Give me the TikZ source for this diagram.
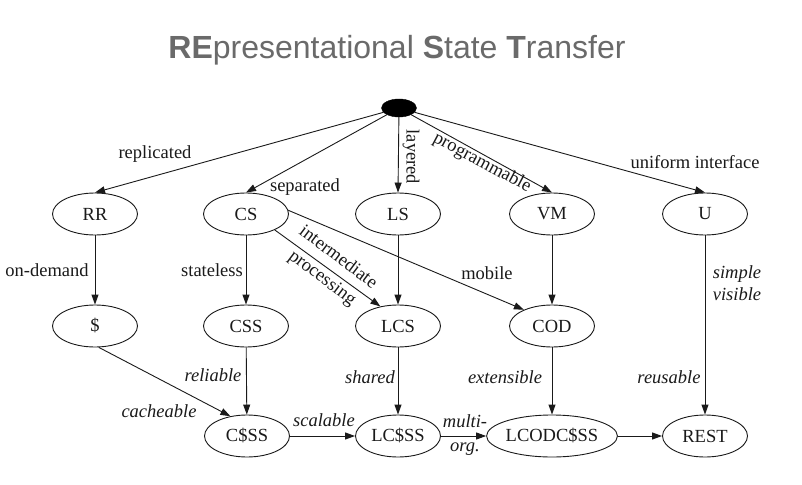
\documentclass[tikz,border=0pt]{standalone}
\usepackage{fontspec}
\setmainfont{Liberation Serif}
\newfontfamily\titlefont{Liberation Sans}
\usetikzlibrary{shapes.geometric,arrows.meta}
\definecolor{ink}{HTML}{1A1A1A}
\definecolor{titlegray}{HTML}{6A6A6A}
\tikzset{
  st/.style={draw=ink, ellipse, line width=0.9pt, minimum width=85pt, minimum height=42pt, inner sep=0pt, text=ink, font=\fontsize{18.5}{20}\selectfont},
  lbl/.style={text=ink, inner sep=0pt, font=\fontsize{18.5}{22}\selectfont},
  ilbl/.style={text=ink, inner sep=0pt, font=\fontsize{18.5}{22}\selectfont\itshape},
  conn/.style={draw=ink, line width=0.9pt, -{Triangle[length=10pt,width=7pt]}},
}
\begin{document}
\begin{tikzpicture}[x=1pt,y=-1pt]
\useasboundingbox (0,0) rectangle (802,484);
\fill[white] (0,0) rectangle (802,484);
\node[text=titlegray, font=\titlefont\fontsize{32}{36}\selectfont, inner sep=0pt] (title) at (397,50) {\textbf{RE}presentational \textbf{S}tate \textbf{T}ransfer};

\node[ellipse, fill=black, draw=black, minimum width=35pt, minimum height=18pt, inner sep=0pt] (top) at (399,108) {};

\node[st] (RR) at (95,214) {RR};
\node[st] (CS) at (246,214) {CS};
\node[st] (LS) at (398,214) {LS};
\node[st] (VM) at (552,214) {VM};
\node[st] (U) at (705,214) {U};

\node[st] (D) at (95,326) {\$};
\node[st] (CSS) at (246,326) {CSS};
\node[st] (LCS) at (398,326) {LCS};
\node[st] (COD) at (552,326) {COD};

\node[st] (CDSS) at (247,436) {C\$SS};
\node[st] (LCDSS) at (398,436) {LC\$SS};
\node[st, minimum width=123pt] (LCODCDSS) at (552,436) {LCODC\$SS};
\node[st] (REST) at (705,436) {REST};

\draw[conn] (top) -- (RR.north);
\draw[conn] (top) -- (CS.north);
\draw[conn] (top) -- (LS.north);
\draw[conn] (top) -- (VM.north);
\draw[conn] (top) -- (U.north);

\draw[conn] (RR) -- (D);
\draw[conn] (CS) -- (CSS);
\draw[conn] (CS.-29) -- (LCS.132);
\draw[conn] (CS.5) -- (COD.150);
\draw[conn] (LS) -- (LCS);
\draw[conn] (VM) -- (COD);
\draw[conn] (U) -- (REST);

\draw[conn] (D.-80) -- (CDSS.130);
\draw[conn] (CSS) -- (CDSS);
\draw[conn] (LCS) -- (LCDSS);
\draw[conn] (COD) -- (LCODCDSS);

\draw[conn] (CDSS) -- (LCDSS);
\draw[conn] (LCDSS) -- (LCODCDSS);
\draw[conn] (LCODCDSS) -- (REST);

\node[lbl] (lrep) at (155,154) {replicated};
\node[lbl] (lsep) at (305,187) {separated};
\node[lbl, rotate=-90] (llay) at (411,157) {layered};
\node[lbl, rotate=-28] (lprog) at (482,163) {programmable};
\node[lbl] (luni) at (695,162) {uniform interface};
\node[lbl] (lond) at (47,270) {on-demand};
\node[lbl] (lstl) at (212,270) {stateless};
\node[lbl, rotate=-37, align=center, font=\fontsize{18.5}{26}\selectfont] (lint) at (330,268) {intermediate\\processing};
\node[lbl] (lmob) at (487,273) {mobile};
\node[ilbl, align=left] (lsim) at (737,283) {simple\\visible};
\node[ilbl] (lrel) at (213,375) {reliable};
\node[ilbl] (lsha) at (370,377) {shared};
\node[ilbl] (lext) at (505,377) {extensible};
\node[ilbl] (lreu) at (669,377) {reusable};
\node[ilbl] (lcac) at (159,411) {cacheable};
\node[ilbl] (lsca) at (324,420) {scalable};
\node[ilbl, align=center, font=\fontsize{18.5}{24}\selectfont\itshape] (lmul) at (465,435) {multi-\\org.};
\end{tikzpicture}
\end{document}
